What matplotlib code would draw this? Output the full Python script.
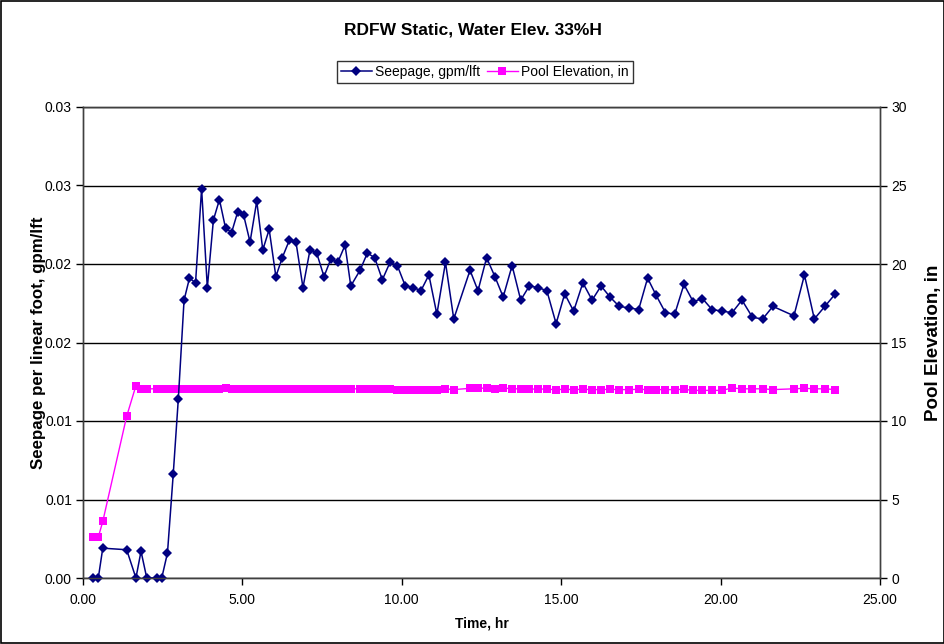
import matplotlib
matplotlib.use("Agg")
import matplotlib.pyplot as plt
from matplotlib.ticker import FixedLocator, FixedFormatter
from matplotlib.lines import Line2D
from matplotlib.patches import Rectangle

plt.rcParams['font.family'] = ['Liberation Sans', 'DejaVu Sans']

title = "RDFW Static, Water Elev. 33%H"
xlabel = "Time, hr"
ylabel_left = "Seepage per linear foot, gpm/lft"
ylabel_right = "Pool Elevation, in"
seep_name = "Seepage, gpm/lft"
pool_name = "Pool Elevation, in"

time_hr = [0.32, 0.48, 0.62, 1.37, 1.66, 1.82, 2.00, 2.31, 2.47, 2.65,
           2.83, 2.99, 3.17, 3.34, 3.53, 3.72, 3.90, 4.09, 4.28, 4.47,
           4.66, 4.85, 5.04, 5.24, 5.45, 5.64, 5.84, 6.05, 6.25, 6.47,
           6.68, 6.90, 7.12, 7.33, 7.56, 7.77, 7.99, 8.22, 8.40, 8.69,
           8.92, 9.15, 9.39, 9.63, 9.86, 10.11, 10.36, 10.60, 10.85, 11.10,
           11.37, 11.63, 12.14, 12.39, 12.66, 12.92, 13.18, 13.46, 13.73, 14.00,
           14.27, 14.55, 14.84, 15.11, 15.39, 15.68, 15.97, 16.25, 16.53, 16.82,
           17.14, 17.43, 17.71, 17.98, 18.27, 18.56, 18.85, 19.14, 19.43, 19.73,
           20.04, 20.36, 20.67, 21.00, 21.32, 21.64, 22.30, 22.63, 22.94, 23.27,
           23.60]

seepage = [0.0, 0.0, 0.0019, 0.0018, 0.0, 0.0017, 0.0, 0.0, 0.0, 0.0016,
           0.0066, 0.0114, 0.0177, 0.0191, 0.0188, 0.0248, 0.0185, 0.0228, 0.0241, 0.0223,
           0.0220, 0.0233, 0.0231, 0.0214, 0.0240, 0.0209, 0.0222, 0.0192, 0.0204, 0.0215,
           0.0214, 0.0185, 0.0209, 0.0207, 0.0192, 0.0203, 0.0201, 0.0212, 0.0186, 0.0196,
           0.0207, 0.0204, 0.0190, 0.0201, 0.0199, 0.0186, 0.0185, 0.0183, 0.0193, 0.0168,
           0.0201, 0.0165, 0.0196, 0.0183, 0.0204, 0.0192, 0.0179, 0.0199, 0.0177, 0.0186,
           0.0185, 0.0183, 0.0162, 0.0181, 0.0170, 0.0188, 0.0177, 0.0186, 0.0179, 0.0173,
           0.0172, 0.0171, 0.0191, 0.0180, 0.0169, 0.0168, 0.0187, 0.0176, 0.0178, 0.0171,
           0.0170, 0.0169, 0.0177, 0.0166, 0.0165, 0.0173, 0.0167, 0.0193, 0.0165, 0.0173,
           0.0181]

pool = [2.6, 2.6, 3.6, 10.3, 12.25, 12.05, 12.05, 12.05, 12.05, 12.05,
        12.05, 12.05, 12.05, 12.05, 12.05, 12.05, 12.05, 12.05, 12.05, 12.08,
        12.05, 12.05, 12.05, 12.05, 12.05, 12.05, 12.05, 12.05, 12.05, 12.05,
        12.05, 12.05, 12.05, 12.05, 12.05, 12.05, 12.05, 12.05, 12.05, 12.05,
        12.05, 12.05, 12.05, 12.05, 12.0, 12.0, 12.0, 12.0, 12.0, 11.95,
        12.05, 12.0, 12.08, 12.08, 12.1, 12.05, 12.1, 12.05, 12.05, 12.02,
        12.05, 12.02, 12.0, 12.02, 12.0, 12.02, 12.0, 12.0, 12.02, 12.0,
        12.0, 12.02, 12.0, 12.0, 12.0, 12.0, 12.02, 11.95, 11.95, 11.95,
        11.95, 12.1, 12.05, 12.05, 12.05, 12.0, 12.05, 12.08, 12.05, 12.05,
        12.0]

x_ticks = [0, 5, 10, 15, 20, 25]
x_tick_labels = ["0.00", "5.00", "10.00", "15.00", "20.00", "25.00"]
yl_ticks = [0, 0.005, 0.010, 0.015, 0.020, 0.025, 0.030]
yl_tick_labels = ["0.00", "0.01", "0.01", "0.02", "0.02", "0.03", "0.03"]
yr_ticks = [0, 5, 10, 15, 20, 25, 30]
yr_tick_labels = ["0", "5", "10", "15", "20", "25", "30"]

navy = "#000080"
magenta = "#FF00FF"

fig = plt.figure(figsize=(9.45, 6.44), dpi=100)
ax = fig.add_axes([83/945, 66/644, (880-83)/945, (578-107)/644])
ax2 = ax.twinx()

ax2.set_facecolor("#C0C0C0")
ax.set_zorder(ax2.get_zorder() + 1)
ax.patch.set_visible(False)

ax2.plot(time_hr, pool, color=magenta, marker="s", markersize=6, linewidth=1,
         markeredgewidth=0, clip_on=False)
ax.plot(time_hr, seepage, color=navy, marker="D", markersize=5, linewidth=1.1,
        markeredgewidth=0, clip_on=False)

ax.set_xlim(0, 25)
ax.set_ylim(0, 0.03)
ax2.set_ylim(0, 30)

ax.xaxis.set_major_locator(FixedLocator(x_ticks))
ax.xaxis.set_major_formatter(FixedFormatter(x_tick_labels))
ax.yaxis.set_major_locator(FixedLocator(yl_ticks))
ax.yaxis.set_major_formatter(FixedFormatter(yl_tick_labels))
ax2.yaxis.set_major_locator(FixedLocator(yr_ticks))
ax2.yaxis.set_major_formatter(FixedFormatter(yr_tick_labels))

for a in (ax, ax2):
    a.tick_params(axis="both", labelsize=10, direction="out", length=5,
                  width=1, color="#000000", pad=3)
    for s in a.spines.values():
        s.set_color("#404040")
        s.set_linewidth(1)
ax.tick_params(axis="x", pad=6)

ax2.yaxis.grid(True, color="#000000", linewidth=1)
ax2.set_axisbelow(True)

ax.set_xlabel(xlabel, fontsize=10, fontweight="bold", labelpad=7)
ax.set_ylabel(ylabel_left, fontsize=12.2, fontweight="bold", labelpad=-1)
ax2.set_ylabel(ylabel_right, fontsize=13.5, fontweight="bold", labelpad=13)

fig.text(0.5, 1 - 30/644, title, ha="center", va="center", fontsize=12.5,
         fontweight="bold")

handles = [
    Line2D([], [], color=navy, marker="D", markersize=5, markeredgewidth=0, linewidth=1.1),
    Line2D([], [], color=magenta, marker="s", markersize=6, markeredgewidth=0, linewidth=1),
]
leg = fig.legend(handles, [seep_name, pool_name], loc="center",
                 bbox_to_anchor=(485/945, 1 - 72/644), ncol=2, fontsize=10,
                 frameon=True, fancybox=False, borderpad=0.3, handlelength=2.2,
                 columnspacing=0.5, handletextpad=0.25, borderaxespad=0)
leg.get_frame().set_edgecolor("#000000")
leg.get_frame().set_linewidth(1)

fig.patches.append(Rectangle((0.001, 0.001), 0.998, 0.998, transform=fig.transFigure,
                             fill=False, edgecolor="#000000", linewidth=1.2))

fig.savefig("out.png", dpi=100)
